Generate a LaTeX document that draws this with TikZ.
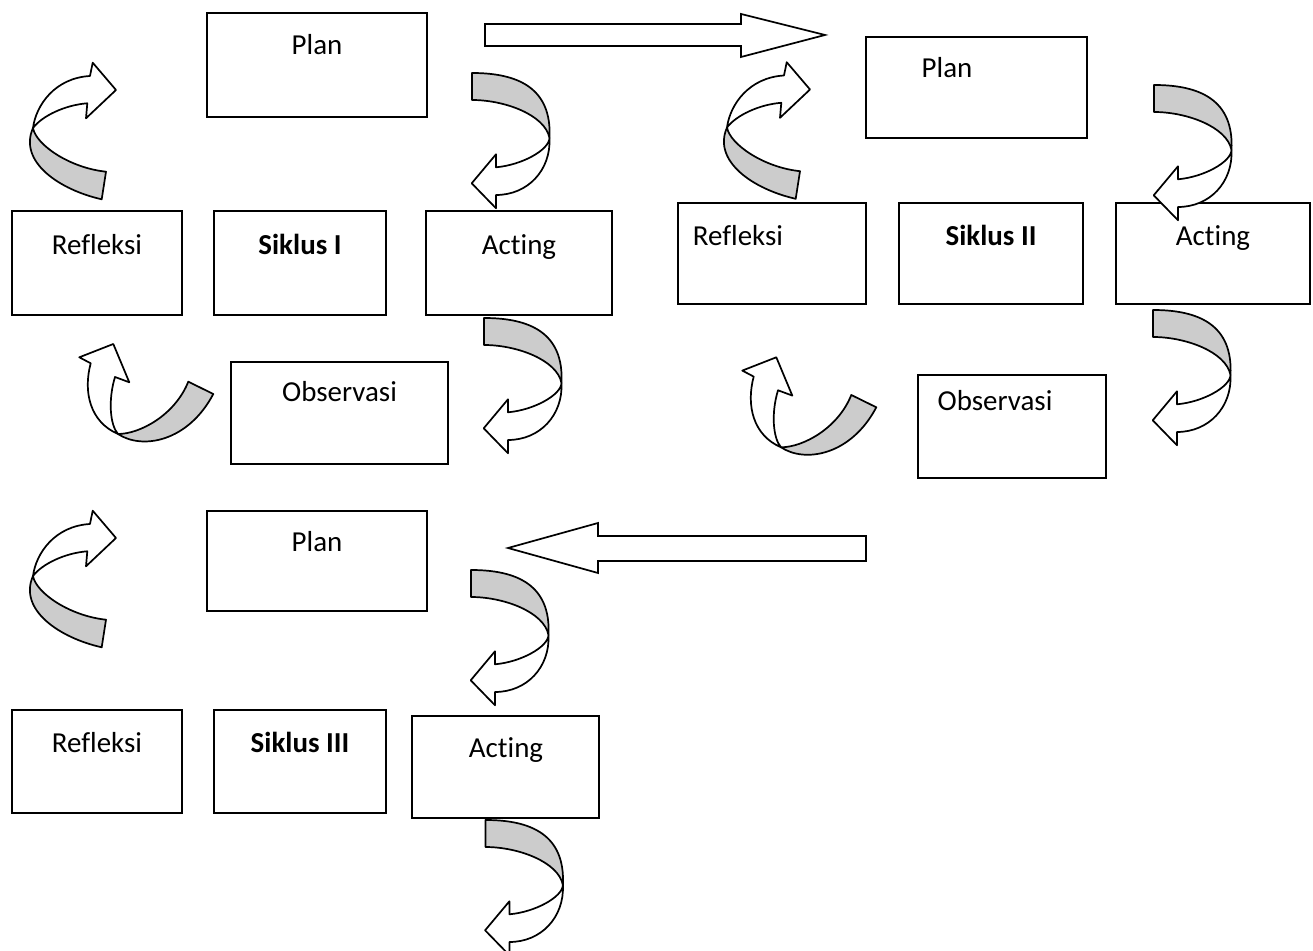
\documentclass[tikz,border=0pt]{standalone}
\usepackage{fontspec}
\setmainfont[Ligatures=NoCommon]{Carlito}
\usetikzlibrary{fit}
\begin{document}
\begin{tikzpicture}[x=0.38pt,y=-0.38pt,
  box/.style={draw, line width=0.75pt, inner sep=0pt},
  lbl/.style={anchor=base, font=\fontsize{11}{13}\selectfont, inner sep=0pt},
  rib/.style={draw, line width=0.65pt, fill=black!20, line join=round},
  wht/.style={draw, line width=0.65pt, fill=white, line join=round},
  blk/.style={draw, line width=0.65pt, fill=white, line join=miter},
  pics/curvA/.style={code={
    \path[rib] (12,13) .. controls (58,13) and (92,28) .. (89.5,78)
       .. controls (85,55) and (45,40) .. (12,40) -- cycle;
    \path[wht] (89.5,78) .. controls (91,110) and (68,135) .. (36,135)
       -- (36,148.3) -- (11.7,123.3) -- (36,94.3) -- (36,107.3)
       .. controls (62,105) and (89,90) .. (89.5,78) -- cycle;
  }},
  pics/curvB/.style={code={
    \path[rib] (106,121.7) -- (101.7,149.3) .. controls (60,140) and (18,112) .. (33,78)
       .. controls (36,95) and (70,118) .. (106,121.7) -- cycle;
    \path[wht] (33,78) .. controls (36,55) and (55,28) .. (90,26)
       -- (92.7,12.7) -- (116,40) -- (86,68.3) -- (87.3,53.3)
       .. controls (65,55) and (42,66) .. (33,78) -- cycle;
  }},
  pics/curvC/.style={code={
    \path[rib] (48,104) .. controls (72,120) and (118,112) .. (143.3,64)
       -- (118.3,51.7) .. controls (105,85) and (70,104) .. (48,104) -- cycle;
    \path[wht] (20.7,33.3) .. controls (13,62) and (20,92) .. (48,104)
       .. controls (40,95) and (38,70) .. (45,47)
       -- (59.3,52.3) -- (43.3,14) -- (9.3,27.3) -- cycle;
  }}]
\useasboundingbox (0,0) rectangle (1313,951);

% ---------- Cycle I ----------
\node[box, fit={(207,13) (427,117)}] (plan1) {};
\node[lbl] (plan1t) at (317,55) {Plan};
\node[box, fit={(12,211) (182,315)}] (refl1) {};
\node[lbl] (refl1t) at (97,255) {Refleksi};
\node[box, fit={(214,211) (386,315)}] (sik1) {};
\node[lbl] (sik1t) at (300,255) {\bfseries Siklus I};
\node[box, fit={(426,211) (612,315)}] (act1) {};
\node[lbl] (act1t) at (519,255) {Acting};
\node[box, fit={(231,362) (448,464)}] (obs1) {};
\node[lbl] (obs1t) at (339.5,402) {Observasi};

\pic (a1) at (460,60) {curvA};
\pic (a2) at (472,305) {curvA};
\pic (b1) at (0,50) {curvB};
\pic (c1) at (70,330) {curvC};

% ---------- Cycle II ----------
\node[box, fit={(866,37) (1087,138)}] (plan2) {};
\node[lbl] (plan2t) at (947,78) {Plan};
\node[box, fit={(678,203) (866,304)}] (refl2) {};
\node[lbl] (refl2t) at (738,246) {Refleksi};
\node[box, fit={(899,203) (1083,304)}] (sik2) {};
\node[lbl] (sik2t) at (991,246) {\bfseries Siklus II};
\node[box, fit={(1116,203) (1310,304)}] (act2) {};
\node[lbl] (act2t) at (1213,246) {Acting};
\node[box, fit={(918,375) (1106,478)}] (obs2) {};
\node[lbl] (obs2t) at (995,411) {Observasi};

\pic (a3) at (1142,72) {curvA};
\pic (a4) at (1141,297) {curvA};
\pic (b2) at (694,49.5) {curvB};
\pic (c2) at (733,343.3) {curvC};

% ---------- Cycle III ----------
\node[box, fit={(207,511) (427,611)}] (plan3) {};
\node[lbl] (plan3t) at (317,552) {Plan};
\node[box, fit={(12,710) (182,813)}] (refl3) {};
\node[lbl] (refl3t) at (97,752) {Refleksi};
\node[box, fit={(214,710) (386,813)}] (sik3) {};
\node[lbl] (sik3t) at (300,752) {\bfseries Siklus III};
\node[box, fit={(412,716) (599,818)}] (act3) {};
\node[lbl] (act3t) at (506,758) {Acting};

\pic (a5) at (459,557) {curvA};
\pic (a6) at (473.4,807) {curvA};
\pic (b3) at (0,498) {curvB};

% ---------- block arrows between cycles ----------
\path[blk] (485,24) -- (741,24) -- (741,14) -- (825,35) -- (741,57) -- (741,46) -- (485,46) -- cycle;
\path[blk] (866,536) -- (598,536) -- (598,523) -- (508,548) -- (598,573) -- (598,561) -- (866,561) -- cycle;
\end{tikzpicture}
\end{document}
